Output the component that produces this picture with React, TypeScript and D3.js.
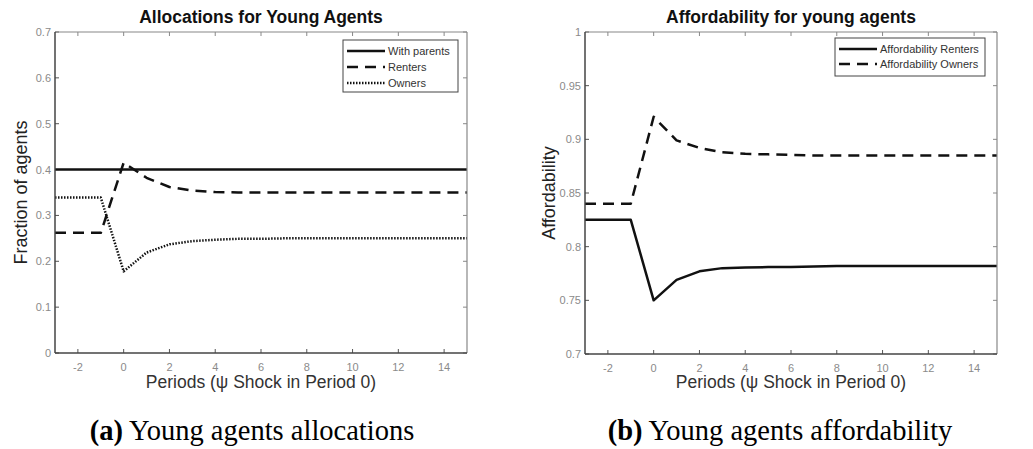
import React from "react";
import * as d3 from "d3";

const periods = [-3, -2, -1, 0, 1, 2, 3, 4, 5, 6, 7, 8, 9, 10, 11, 12, 13, 14, 15];
const withParents = [0.4, 0.4, 0.4, 0.4, 0.4, 0.4, 0.4, 0.4, 0.4, 0.4, 0.4, 0.4, 0.4, 0.4, 0.4, 0.4, 0.4, 0.4, 0.4];
const renters = [0.262, 0.262, 0.262, 0.415, 0.382, 0.362, 0.354, 0.351, 0.350, 0.350, 0.350, 0.350, 0.350, 0.350, 0.350, 0.350, 0.350, 0.350, 0.350];
const owners = [0.339, 0.339, 0.339, 0.178, 0.219, 0.237, 0.244, 0.247, 0.249, 0.249, 0.25, 0.25, 0.25, 0.25, 0.25, 0.25, 0.25, 0.25, 0.25];
const affRenters = [0.825, 0.825, 0.825, 0.750, 0.769, 0.777, 0.780, 0.7805, 0.781, 0.781, 0.7815, 0.782, 0.782, 0.782, 0.782, 0.782, 0.782, 0.782, 0.782];
const affOwners = [0.84, 0.84, 0.84, 0.921, 0.899, 0.892, 0.888, 0.8865, 0.886, 0.8855, 0.885, 0.885, 0.885, 0.885, 0.885, 0.885, 0.885, 0.885, 0.885];

const xTicks = [-2, 0, 2, 4, 6, 8, 10, 12, 14];
const yTicksA = [0, 0.1, 0.2, 0.3, 0.4, 0.5, 0.6, 0.7];
const yTicksB = [0.7, 0.75, 0.8, 0.85, 0.9, 0.95, 1];
const yTickLabelsB = ["0.7", "0.75", "0.8", "0.85", "0.9", "0.95", "1"];

const FONT = "'Liberation Sans', Arial, Helvetica, sans-serif";
const SERIF = "'Liberation Serif', 'Times New Roman', serif";

type Series = { name: string; values: number[]; dash: string; width: number };

function Panel(props: {
  left: number; right: number; top: number; bottom: number;
  yDomain: [number, number]; yTicks: number[]; yTickLabels: string[];
  title: string; yLabel: string; yLabelX: number; series: Series[];
  legend: { x: number; y: number; w: number; h: number; rowH: number };
  caption: [string, string]; captionX: number;
}) {
  const { left, right, top, bottom, yDomain, yTicks, yTickLabels, title, yLabel, yLabelX, series, legend, caption, captionX } = props;
  const x = d3.scaleLinear().domain([-3, 15]).range([left, right]);
  const y = d3.scaleLinear().domain(yDomain).range([bottom, top]);
  const line = d3.line<number>().x((_, i) => x(periods[i])).y((v) => y(v));
  const tl = 4;
  const cx = (left + right) / 2;
  return (
    <g>
      {xTicks.map((t) => (
        <g key={"xt" + t}>
          <line x1={x(t)} x2={x(t)} y1={bottom} y2={bottom - tl} stroke="#555" strokeWidth={1} />
          <line x1={x(t)} x2={x(t)} y1={top} y2={top + tl} stroke="#888" strokeWidth={1} />
          <text x={x(t)} y={bottom + 18} textAnchor="middle" fontFamily={FONT} fontSize={11} fill="#8a8a8a">{t}</text>
        </g>
      ))}
      {yTicks.map((t, i) => (
        <g key={"yt" + t}>
          <line x1={left} x2={left + tl} y1={y(t)} y2={y(t)} stroke="#555" strokeWidth={1} />
          <line x1={right} x2={right - tl} y1={y(t)} y2={y(t)} stroke="#888" strokeWidth={1} />
          <text x={left - 4} y={y(t) + 4} textAnchor="end" fontFamily={FONT} fontSize={11} fill="#8a8a8a">{yTickLabels[i]}</text>
        </g>
      ))}
      {series.map((s) => (
        <path key={s.name} d={line(s.values) || ""} fill="none" stroke="#111" strokeWidth={s.width} strokeDasharray={s.dash} strokeLinejoin="round" />
      ))}
      <line x1={left} x2={right} y1={top} y2={top} stroke="#888" strokeWidth={1.2} />
      <line x1={right} x2={right} y1={top} y2={bottom} stroke="#888" strokeWidth={1.2} />
      <line x1={left} x2={right} y1={bottom} y2={bottom} stroke="#444" strokeWidth={1.5} />
      <line x1={left} x2={left} y1={top} y2={bottom} stroke="#444" strokeWidth={1.5} />
      <rect x={legend.x} y={legend.y} width={legend.w} height={legend.h} fill="#fff" stroke="#444" strokeWidth={1} />
      {series.map((s, i) => {
        const ly = legend.y + 11 + i * legend.rowH;
        return (
          <g key={"lg" + s.name}>
            <line x1={legend.x + 4} x2={legend.x + 42} y1={ly} y2={ly} stroke="#111" strokeWidth={s.width} strokeDasharray={s.dash} />
            <text x={legend.x + 45} y={ly + 4} fontFamily={FONT} fontSize={11} fill="#333">{s.name}</text>
          </g>
        );
      })}
      <text x={cx} y={23} textAnchor="middle" fontFamily={FONT} fontSize={17.5} fontWeight="bold" fill="#111">{title}</text>
      <text transform={`translate(${yLabelX},${(top + bottom) / 2}) rotate(-90)`} textAnchor="middle" fontFamily={FONT} fontSize={18} fill="#222">{yLabel}</text>
      <text x={cx} y={388} textAnchor="middle" fontFamily={FONT} fontSize={17.5} fill="#333">Periods (ψ Shock in Period 0)</text>
      <text x={captionX} y={440} textAnchor="middle" fontFamily={SERIF} fontSize={28.5} fill="#000">
        <tspan fontWeight="bold">{caption[0]}</tspan>
        <tspan>{" " + caption[1]}</tspan>
      </text>
    </g>
  );
}

export default function App() {
  return (
    <svg width={1033} height={449} style={{ position: "absolute", left: 0, top: 0, background: "#fff" }}>
      <rect x={0} y={0} width={1033} height={449} fill="#fff" />
      <Panel
        left={55} right={467} top={32} bottom={353}
        yDomain={[0, 0.7]} yTicks={yTicksA} yTickLabels={yTicksA.map((t) => String(t))}
        title="Allocations for Young Agents" yLabel="Fraction of agents" yLabelX={27}
        series={[
          { name: "With parents", values: withParents, dash: "", width: 2.5 },
          { name: "Renters", values: renters, dash: "11,7", width: 2.5 },
          { name: "Owners", values: owners, dash: "1.5,1.5", width: 2.5 },
        ]}
        legend={{ x: 343, y: 40, w: 115, h: 52, rowH: 16 }}
        caption={["(a)", "Young agents allocations"]} captionX={252}
      />
      <Panel
        left={585} right={997} top={32} bottom={354}
        yDomain={[0.7, 1]} yTicks={yTicksB} yTickLabels={yTickLabelsB}
        title="Affordability for young agents" yLabel="Affordability" yLabelX={555}
        series={[
          { name: "Affordability Renters", values: affRenters, dash: "", width: 2.5 },
          { name: "Affordability Owners", values: affOwners, dash: "11,7", width: 2.5 },
        ]}
        legend={{ x: 835, y: 38, w: 150, h: 38, rowH: 15 }}
        caption={["(b)", "Young agents affordability"]} captionX={780}
      />
    </svg>
  );
}
